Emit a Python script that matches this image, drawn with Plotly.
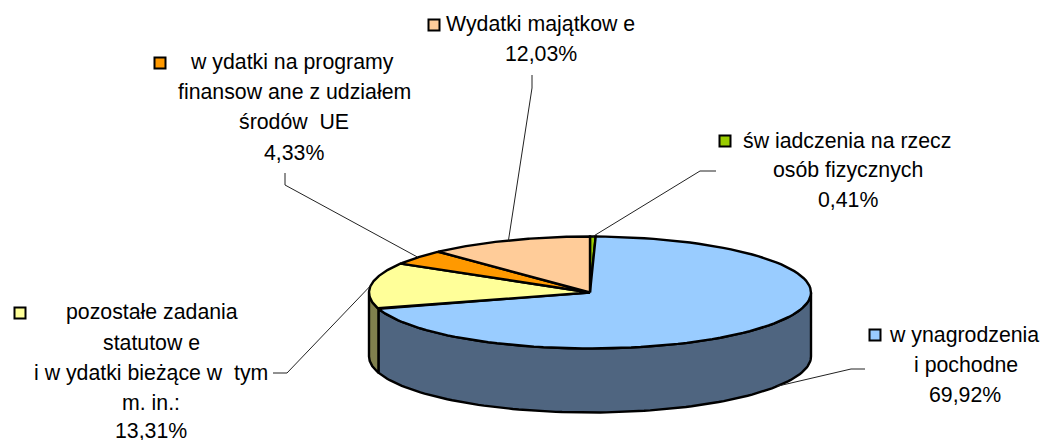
import numpy as np
import plotly.graph_objects as go

# Data, clockwise from the top of the pie
categories = ["świadczenia na rzecz osób fizycznych", "wynagrodzenia i pochodne",
              "pozostałe zadania statutowe i wydatki bieżące w tym m. in.:",
              "wydatki na programy finansowane z udziałem środów UE", "Wydatki majątkowe"]
values = [0.41, 69.92, 13.31, 4.33, 12.03]
colors = ["#99CC00", "#99CCFF", "#FFFF99", "#FF9900", "#FFCC99"]
side_colors = ["#4C6600", "#4F6580", "#80804D", "#7F4C00", "#7F664C"]

# Label layout: text lines per slice
label_lines = [
    ["św iadczenia na rzecz", "osób fizycznych", "0,41%"],
    ["w ynagrodzenia", "i pochodne", "69,92%"],
    ["pozostałe zadania", "statutow e", "i w ydatki bieżące w  tym", "m. in.:", "13,31%"],
    ["w ydatki na programy", "finansow ane z udziałem", "środów  UE", "4,33%"],
    ["Wydatki majątkow e", "12,03%"],
]
label_x = [[847, 848, 848], [964, 966, 965], [152, 151, 151, 151, 151],
           [292, 294, 294, 294], [540, 541]]
label_y = [[141, 170, 200], [335, 365, 395], [312, 343, 373, 403, 431],
           [62, 92, 122, 153], [24, 54]]
key_xy = [(725, 141), (875, 335), (20, 313), (160, 63), (434, 25)]
leader_elbows = [[(716, 171), (700, 171)], [(865, 369), (851, 369)], [(273, 373), (287, 373)],
                 [(285, 173), (285, 185)], [(532, 75), (532, 88)]]

CX, CY, RX, RY, DEPTH = 590, 292.5, 221, 56, 64


def rim(a0, a1, n=100):
    t = np.radians(np.linspace(a0, a1, n))
    return CX + RX * np.sin(t), CY - RY * np.cos(t)


fig = go.Figure()
edges = np.concatenate([[0], np.cumsum(values)]) * 3.6


def poly(x, y, color, width=2.4):
    fig.add_trace(go.Scatter(x=list(x), y=list(y), mode="lines", fill="toself", fillcolor=color,
                             line=dict(color="black", width=width), hoverinfo="skip"))


# Side walls (only the part of the rim facing the viewer: 90..270 degrees)
for i in range(len(values)):
    a0, a1 = max(edges[i], 90), min(edges[i + 1], 270)
    if a1 > a0:
        x, y = rim(a0, a1)
        poly(np.r_[x, x[::-1], x[0]], np.r_[y, y[::-1] + DEPTH, y[0]], side_colors[i])

# Top faces
for i in range(len(values)):
    x, y = rim(edges[i], edges[i + 1])
    poly(np.r_[CX, x, CX], np.r_[CY, y, CY], colors[i])

# Leader lines
for i in range(len(values)):
    mid = (edges[i] + edges[i + 1]) / 2
    if i == 1:
        ax, ay = rim(122, 122, 1)
        ay = ay + DEPTH
    else:
        ax, ay = rim(mid, mid, 1)
    pts = leader_elbows[i]
    fig.add_trace(go.Scatter(x=[pts[0][0], pts[1][0], float(ax[0])], y=[pts[0][1], pts[1][1], float(ay[0])],
                             mode="lines", line=dict(color="#222222", width=1), hoverinfo="skip"))

# Legend keys
fig.add_trace(go.Scatter(x=[k[0] for k in key_xy], y=[k[1] for k in key_xy], mode="markers",
                         marker=dict(symbol="square", size=11, color=colors, line=dict(color="black", width=2)),
                         hoverinfo="skip"))

for lines, xs, ys in zip(label_lines, label_x, label_y):
    for t, x, y in zip(lines, xs, ys):
        fig.add_annotation(x=x, y=y, text=t, showarrow=False, xanchor="center", yanchor="middle",
                           font=dict(family="Liberation Sans", size=21.3, color="black"))

fig.update_layout(width=1041, height=440, margin=dict(l=0, r=0, t=0, b=0), showlegend=False,
                  paper_bgcolor="white", plot_bgcolor="white",
                  xaxis=dict(range=[0, 1041], visible=False, fixedrange=True),
                  yaxis=dict(range=[440, 0], visible=False, fixedrange=True))
fig.write_html("out.html", config={"displayModeBar": False},
               post_script="document.body.style.margin='0';")
